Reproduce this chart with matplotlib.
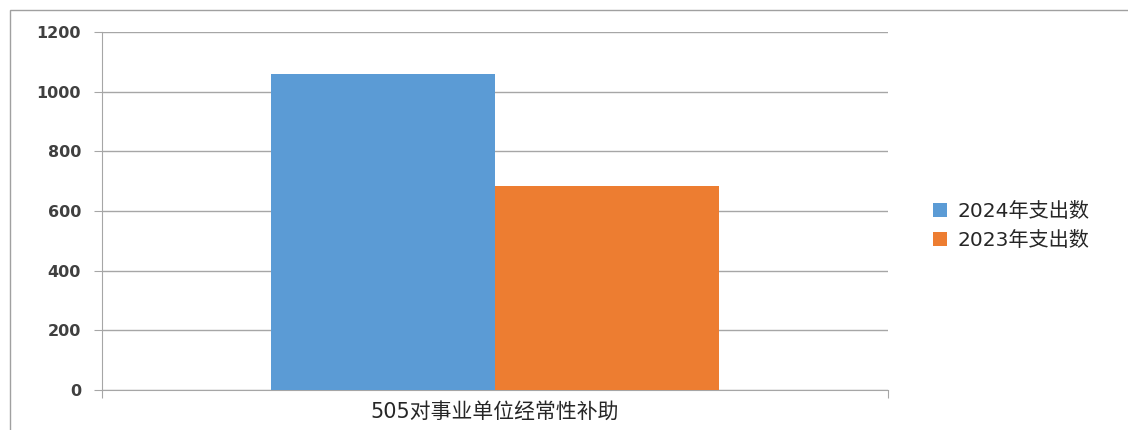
import matplotlib.pyplot as plt
from matplotlib.patches import Rectangle
import numpy as np

plt.rcParams['font.family'] = ['DejaVu Sans', 'Noto Sans CJK SC']

categories = ["505对事业单位经常性补助"]
series_names = ["2024年支出数", "2023年支出数"]
values_2024 = [1059]
values_2023 = [684]
y_ticks = [0, 200, 400, 600, 800, 1000, 1200]

colors = ["#5b9bd5", "#ed7d31"]
grid_color = "#a6a6a6"

fig = plt.figure(figsize=(11.28, 4.3), dpi=100)
ax = fig.add_axes([102 / 1128, 1 - 390 / 430, (888 - 102) / 1128, (390 - 32) / 430])

x = np.arange(len(categories))
w = 0.285
ax.bar(x - w / 2, values_2024, w, color=colors[0], label=series_names[0], zorder=3)
ax.bar(x + w / 2, values_2023, w, color=colors[1], label=series_names[1], zorder=3)

ax.set_xlim(-0.5, 0.5)
ax.set_ylim(0, 1200)
ax.set_yticks(y_ticks)
ax.set_yticklabels([str(t) for t in y_ticks], fontsize=11.5, color="#404040",
                   fontweight="bold")
ax.yaxis.grid(True, color=grid_color, linewidth=1, zorder=0)
ax.set_xticks([-0.5, 0.5])
ax.set_xticklabels(["", ""])
ax.tick_params(axis="y", length=6, color=grid_color, pad=9)
ax.tick_params(axis="x", length=6, color=grid_color)
ax.text(0, -0.06, categories[0], transform=ax.get_xaxis_transform(),
        ha="center", va="center", fontsize=15, color="#262626")

for side in ["top", "right"]:
    ax.spines[side].set_visible(False)
ax.spines["left"].set_color(grid_color)
ax.spines["bottom"].set_color(grid_color)

ax.legend(loc="center left", bbox_to_anchor=(915 / 1128, 1 - 226 / 430),
          bbox_transform=fig.transFigure, frameon=False, fontsize=14.5,
          handlelength=0.7, handleheight=0.7, handletextpad=0.5,
          labelspacing=0.5, labelcolor="#262626")

fig.add_artist(Rectangle((10 / 1128, -0.01), 1.02, 1 - 10 / 430 + 0.01,
                         transform=fig.transFigure, fill=False,
                         edgecolor="#a0a0a0", linewidth=1))

fig.savefig("out.png", dpi=100)
